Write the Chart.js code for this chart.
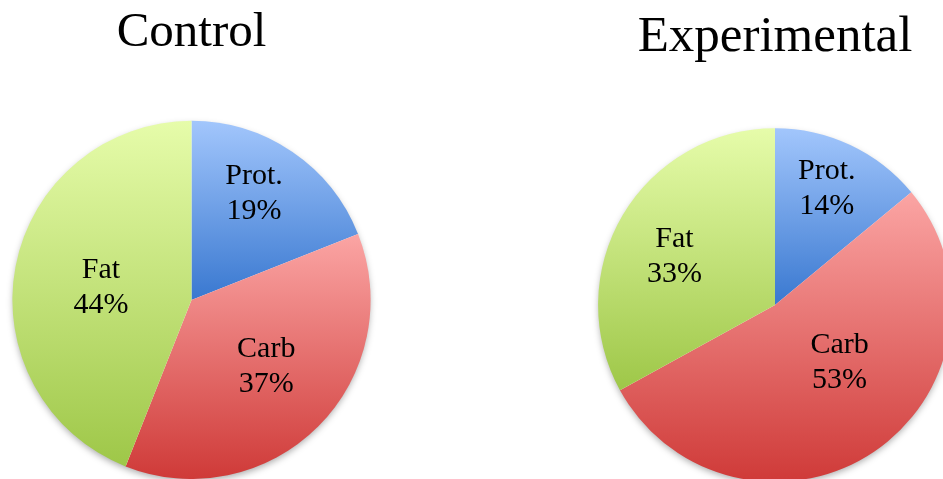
<!DOCTYPE html>
<html>
<head>
<meta charset="utf-8">
<script src="https://cdn.jsdelivr.net/npm/chart.js@4"></script>
<style>
html,body{margin:0;padding:0;background:#fff;overflow:hidden;width:943px;height:479px}
.pie{position:absolute;top:0}
#boxA{left:0;width:383px;height:479px}
#boxB{left:575px;width:400px;height:500px}
</style>
</head>
<body>
<div class="pie" id="boxA"><canvas id="control"></canvas></div>
<div class="pie" id="boxB"><canvas id="experimental"></canvas></div>
<script>
// diet composition, % of energy
const CATEGORIES=['Prot.','Carb','Fat'];
const CONTROL=[19,37,44];
const EXPERIMENTAL=[14,53,33];
const TITLES=['Control','Experimental'];

// top -> bottom gradient colours for each slice
const FILLS=[
  ['#a2c6fc','#3978d0'],
  ['#fba5a4','#cf3a38'],
  ['#e6fcaa','#9ec748']
];
const SERIF='"Liberation Serif", "Times New Roman", serif';

function sum(a){return a.reduce((x,y)=>x+y,0);}

// vertical gradient over the bounding box of each slice
function sliceGradient(c){
  const chart=c.chart, area=chart.chartArea, stops=FILLS[c.dataIndex];
  if(!area) return stops[1];
  const data=c.dataset.data, total=sum(data);
  const before=sum(data.slice(0,c.dataIndex));
  const a0=-Math.PI/2+before/total*2*Math.PI;
  const a1=a0+data[c.dataIndex]/total*2*Math.PI;
  const cx=(area.left+area.right)/2, cy=(area.top+area.bottom)/2;
  const r=Math.min(area.right-area.left,area.bottom-area.top)/2;
  const ys=[cy,cy+r*Math.sin(a0),cy+r*Math.sin(a1)];
  [-Math.PI/2,Math.PI/2,3*Math.PI/2].forEach(t=>{if(t>=a0&&t<=a1) ys.push(cy+r*Math.sin(t));});
  const g=chart.ctx.createLinearGradient(0,Math.min(...ys),0,Math.max(...ys));
  g.addColorStop(0,stops[0]);g.addColorStop(1,stops[1]);
  return g;
}

// soft drop shadow under the whole pie
const pieShadow={
  id:'pieShadow',
  beforeDatasetsDraw(chart){
    const arc=chart.getDatasetMeta(0).data[0];
    if(!arc) return;
    const {x,y,outerRadius}=arc.getProps(['x','y','outerRadius'],true);
    const ctx=chart.ctx;
    ctx.save();
    ctx.shadowColor='rgba(0,0,0,0.35)';
    ctx.shadowBlur=7;ctx.shadowOffsetY=3;
    ctx.fillStyle='#fff';
    ctx.beginPath();ctx.arc(x,y,outerRadius-1,0,Math.PI*2);ctx.fill();
    ctx.restore();
  }
};

// name + percentage written inside each slice
const sliceLabels={
  id:'sliceLabels',
  afterDatasetsDraw(chart,args,opts){
    const ctx=chart.ctx, data=chart.data.datasets[0].data, total=sum(data);
    ctx.save();
    ctx.font=opts.size+'px '+SERIF;
    ctx.fillStyle='#000';ctx.textAlign='center';ctx.textBaseline='middle';
    chart.getDatasetMeta(0).data.forEach((arc,i)=>{
      const p=arc.getProps(['x','y','startAngle','endAngle','outerRadius'],true);
      const mid=(p.startAngle+p.endAngle)/2+opts.nudge[i]*Math.PI/180;
      const d=p.outerRadius*opts.radius[i];
      const lx=p.x+Math.cos(mid)*d, ly=p.y+Math.sin(mid)*d;
      ctx.fillText(chart.data.labels[i],lx,ly-opts.gap/2);
      ctx.fillText(Math.round(data[i]/total*100)+'%',lx,ly+opts.gap/2);
    });
    ctx.restore();
  }
};

function makePie(id,title,values,pad,titleSize,titlePad,lbl){
  return new Chart(document.getElementById(id),{
    type:'pie',
    data:{labels:CATEGORIES,datasets:[{data:values,backgroundColor:sliceGradient,borderWidth:0,hoverOffset:0}]},
    options:{
      responsive:true,maintainAspectRatio:false,animation:false,
      layout:{padding:pad},
      events:[],
      plugins:{
        legend:{display:false},
        tooltip:{enabled:false},
        title:{display:true,text:title,color:'#000',padding:titlePad,
          font:{family:SERIF,size:titleSize,weight:'normal',lineHeight:1.2}},
        sliceLabels:Object.assign({size:30,gap:35},lbl)
      }
    },
    plugins:[pieShadow,sliceLabels]
  });
}

makePie('control',TITLES[0],CONTROL,
  {left:12,right:12,top:0,bottom:0},49,{top:4,bottom:58},
  {radius:[0.69,0.56,0.51],nudge:[-3.8,-3.2,-3.2]});
makePie('experimental',TITLES[1],EXPERIMENTAL,
  {left:23,right:23,top:0,bottom:18},51,{top:7,bottom:60},
  {radius:[0.72,0.49,0.63],nudge:[-1.2,-14,-5]});
</script>
</body>
</html>
